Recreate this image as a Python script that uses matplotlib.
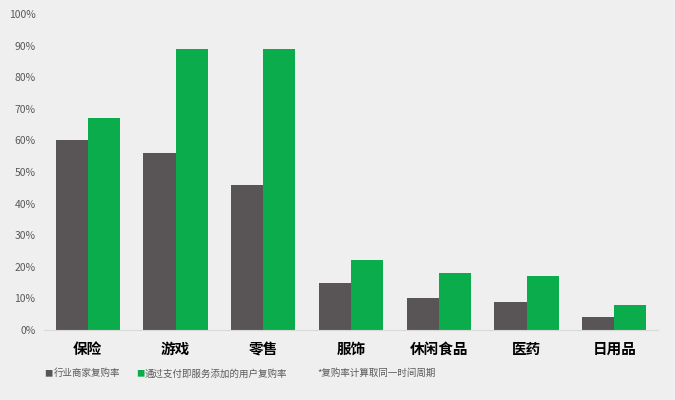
import matplotlib.pyplot as plt
import numpy as np
from matplotlib.ticker import PercentFormatter

plt.rcParams['font.family'] = ['Noto Sans CJK SC', 'DejaVu Sans']

# Repurchase rates by category (percent)
categories = ['保险', '游戏', '零售', '服饰', '休闲食品', '医药', '日用品']
industry_rate = [60, 56, 46, 15, 10, 9, 4]
service_rate = [67, 89, 89, 22, 18, 17, 8]

series_names = ['行业商家复购率', '通过支付即服务添加的用户复购率']
note = '*复购率计算取同一时间周期'

bg = '#efefef'
gray = '#595557'
green = '#0aac4c'

fig = plt.figure(figsize=(6.75, 4), dpi=100, facecolor=bg)
ax = fig.add_axes([0.065, 0.175, 0.91, 0.79])
ax.set_facecolor(bg)

x = np.arange(len(categories))
w = 0.365
ax.bar(x - w / 2, industry_rate, w, color=gray)
ax.bar(x + w / 2, service_rate, w, color=green)

ax.set_xlim(-0.5, len(categories) - 0.5)
ax.set_ylim(0, 100)
ax.set_yticks(range(0, 101, 10))
ax.yaxis.set_major_formatter(PercentFormatter(decimals=0))
ax.tick_params(axis='y', length=0, labelsize=7.5, labelcolor='#595959', pad=6)
ax.set_xticks(x)
ax.set_xticklabels(categories, fontsize=10.5, fontweight='heavy', color='black')
ax.tick_params(axis='x', length=0, pad=8)

for s in ['top', 'right', 'left']:
    ax.spines[s].set_visible(False)
ax.spines['bottom'].set_color('#d9d9d9')
ax.spines['bottom'].set_linewidth(0.8)

# legend row at the bottom
ly = 0.066
fig.text(0.066, ly, '■', color=gray, fontsize=6, va='center')
fig.text(0.079, ly, series_names[0], color='#595959', fontsize=6.8, va='center')
fig.text(0.202, ly, '■', color=green, fontsize=6, va='center')
fig.text(0.214, ly, series_names[1], color='#595959', fontsize=6.8, va='center')
fig.text(0.47, ly, note, color='#595959', fontsize=6.8, va='center')

fig.savefig('out.png', dpi=100, facecolor=bg)
